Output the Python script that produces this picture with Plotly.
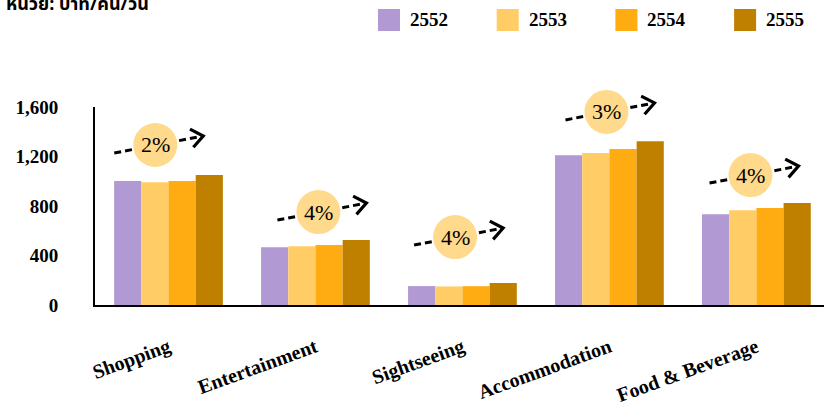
import math
import plotly.graph_objects as go

# ---------------- data ----------------
categories = ["Shopping", "Entertainment", "Sightseeing", "Accommodation", "Food & Beverage"]
years = ["2552", "2553", "2554", "2555"]
v2552 = [1002, 466, 153, 1210, 733]
v2553 = [991, 474, 150, 1228, 765]
v2554 = [1002, 485, 152, 1260, 784]
v2555 = [1050, 525, 178, 1323, 824]
growth_labels = ["2%", "4%", "4%", "3%", "4%"]
y_ticks = [0, 400, 800, 1200, 1600]
unit_label = "หน่วย: บาท/คน/วัน"

# ---------------- styling / layout ----------------
colors = ["#B199D3", "#FFCC66", "#FFAB12", "#BF8000"]
W, H = 824, 412
ML, MR, MT, MB = 95, 0, 107, 107
PW, PH = W - ML - MR, H - MT - MB
X_RANGE = [-0.5, 4.46]
Y_RANGE = [0, 1600]


def data_to_paper_x(v):
    return (v - X_RANGE[0]) / (X_RANGE[1] - X_RANGE[0])


def data_to_paper_y(v):
    return (v - Y_RANGE[0]) / (Y_RANGE[1] - Y_RANGE[0])


def px_to_paper_x(px):
    return (px - ML) / PW


def px_to_paper_y(py):
    return 1 + (MT - py) / PH


# callout bubble centres (category offset, value level)
callout_dx = [-0.09, 0.02, -0.05, -0.02, -0.04]
callout_y = [1293, 751, 549, 1560, 1050]
ARROW_START = (-41, -8)   # pixel offset from bubble centre (x right, y up)
ARROW_END = (48, 9)
BUBBLE_R = 22

series = [v2552, v2553, v2554, v2555]

fig = go.Figure()
for name, vals, col in zip(years, series, colors):
    fig.add_trace(go.Bar(
        x=categories, y=vals, name=name,
        marker=dict(color=col, line=dict(width=0)),
        showlegend=False,
    ))

shapes = []
annotations = []
for i, lab in enumerate(growth_labels):
    cxp = data_to_paper_x(i + callout_dx[i])
    cyp = data_to_paper_y(callout_y[i])
    sx = cxp + ARROW_START[0] / PW
    sy = cyp + ARROW_START[1] / PH
    ex = cxp + ARROW_END[0] / PW
    ey = cyp + ARROW_END[1] / PH
    shapes.append(dict(type="line", xref="paper", yref="paper", x0=sx, y0=sy, x1=ex, y1=ey,
                       line=dict(color="black", width=3, dash="7px,4px")))
    shapes.append(dict(type="circle", xref="paper", yref="paper", xsizemode="pixel", ysizemode="pixel",
                       xanchor=cxp, yanchor=cyp, x0=-BUBBLE_R, x1=BUBBLE_R, y0=-BUBBLE_R, y1=BUBBLE_R,
                       fillcolor="#FFD98C", line=dict(width=0)))
    ang = math.atan2(ARROW_END[1] - ARROW_START[1], ARROW_END[0] - ARROW_START[0])
    L = 15
    pts = []
    for d in (math.radians(180 - 38), math.radians(180 + 38)):
        pts.append((L * math.cos(ang + d), L * math.sin(ang + d)))
    path = f"M{pts[0][0]:.1f},{pts[0][1]:.1f} L0,0 L{pts[1][0]:.1f},{pts[1][1]:.1f}"
    shapes.append(dict(type="path", xref="paper", yref="paper", xsizemode="pixel", ysizemode="pixel",
                       xanchor=ex, yanchor=ey, path=path,
                       line=dict(color="black", width=3.2)))
    annotations.append(dict(x=cxp, y=cyp, xref="paper", yref="paper", text=lab, showarrow=False,
                            xanchor="center", yanchor="middle",
                            font=dict(family="'Liberation Serif', 'DejaVu Serif', serif", size=22, color="black")))

# manual legend
leg_x0 = 378
leg_step = 118.7
for k, (yr, col) in enumerate(zip(years, colors)):
    x0 = leg_x0 + k * leg_step
    shapes.append(dict(type="rect", xref="paper", yref="paper",
                       x0=px_to_paper_x(x0), x1=px_to_paper_x(x0 + 22),
                       y0=px_to_paper_y(31), y1=px_to_paper_y(9),
                       fillcolor=col, line=dict(width=0)))
    annotations.append(dict(x=px_to_paper_x(x0 + 30), y=px_to_paper_y(20),
                            xref="paper", yref="paper", xanchor="left", yanchor="middle",
                            text=f"<b>{yr}</b>", showarrow=False,
                            font=dict(family="Liberation Serif", size=19, color="black")))

# unit label (partly cut off by the top edge, as in the source)
annotations.append(dict(x=px_to_paper_x(4), y=px_to_paper_y(20), xref="paper", yref="paper",
                        xanchor="left", yanchor="bottom", text=f"<b>{unit_label}</b>",
                        showarrow=False,
                        font=dict(family="Noto Sans Thai, Noto Sans, DejaVu Sans", size=18, color="black")))

fig.update_layout(
    width=W, height=H,
    margin=dict(l=ML, r=MR, t=MT, b=MB, pad=0),
    paper_bgcolor="white", plot_bgcolor="white",
    barmode="group", bargap=0.26, bargroupgap=0,
    showlegend=False,
    shapes=shapes, annotations=annotations,
    xaxis=dict(range=X_RANGE, showgrid=False, showline=True, linecolor="black", linewidth=2,
               ticks="", tickangle=-20, ticklabelstandoff=21,
               tickfont=dict(family="Liberation Serif", size=20, color="black", weight="bold"),
               fixedrange=True, zeroline=False),
    yaxis=dict(range=Y_RANGE, tickvals=y_ticks, tickformat=",", showgrid=False, showline=True,
               linecolor="black", linewidth=2, ticks="", ticklabelstandoff=31,
               tickfont=dict(family="Liberation Serif", size=19, color="black", weight="bold"),
               zeroline=False, fixedrange=True),
)

fig.write_html("out.html")
